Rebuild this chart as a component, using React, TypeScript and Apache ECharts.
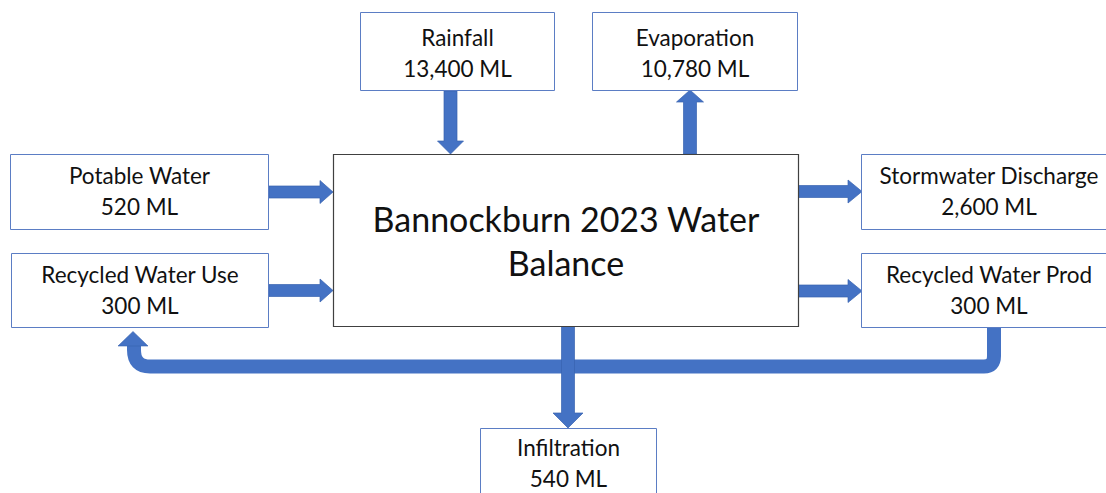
import React, { useEffect, useRef } from "react";
import * as echarts from "echarts";

// ---- data ----
const nodeNames = [
  "Rainfall",
  "Evaporation",
  "Potable Water",
  "Recycled Water Use",
  "Stormwater Discharge",
  "Recycled Water Prod",
  "Infiltration",
];
const volumesML = [13400, 10780, 520, 300, 2600, 300, 540];
const titleLines = ["Bannockburn 2023 Water", "Balance"];

// ---- layout (positions / sizes only) ----
const boxLayout = [
  { x: 360.5, y: 12.5, w: 194, h: 78, ty: 53 },
  { x: 592.5, y: 12.5, w: 205, h: 78, ty: 53 },
  { x: 10.5, y: 154.5, w: 258, h: 75, ty: 191 },
  { x: 11.5, y: 253.5, w: 257, h: 74, ty: 290 },
  { x: 861.5, y: 154.5, w: 255, h: 75, ty: 191 },
  { x: 861.5, y: 253.5, w: 255, h: 74, ty: 290 },
  { x: 480.5, y: 428.5, w: 176, h: 80, ty: 462.5 },
];
const mainBox = { x: 333.5, y: 154.5, w: 465, h: 172 };

// arrows: [x1, y1, x2, y2, shaft, headWidth, headLen]
const arrowLayout: number[][] = [
  [450.5, 91, 450.5, 154, 13, 26, 13],
  [690, 154, 690, 90, 13, 27, 12],
  [269, 192, 333, 192, 12, 23, 13],
  [269, 290.5, 333, 290.5, 12, 23, 13],
  [798, 191.5, 862, 191.5, 12, 23, 14],
  [798, 291, 862, 291, 12, 23, 14],
  [568, 326, 568, 428, 13, 30, 15],
];

const BLUE = "#4472C4";
const BLUE_EDGE = "#3863B0";
const FONT = "Lato, 'Noto Sans', sans-serif";

function arrowPoints(a: number[]) {
  const [x1, y1, x2, y2, s, hw, hl] = a;
  const dx = x2 - x1;
  const dy = y2 - y1;
  const len = Math.sqrt(dx * dx + dy * dy);
  const ux = dx / len;
  const uy = dy / len;
  const px = -uy;
  const py = ux;
  const bx = x2 - ux * hl;
  const by = y2 - uy * hl;
  const pt = (cx: number, cy: number, o: number) => [cx + px * o, cy + py * o];
  return [
    pt(x1, y1, s / 2),
    pt(bx, by, s / 2),
    pt(bx, by, hw / 2),
    [x2, y2],
    pt(bx, by, -hw / 2),
    pt(bx, by, -s / 2),
    pt(x1, y1, -s / 2),
  ];
}

const loopPath =
  "M994 327 L994 356 Q994 366.5 984 366.5 L150 366.5 Q134 366.5 134 350 L134 345";

export default function App() {
  const ref = useRef<HTMLDivElement>(null);
  useEffect(() => {
    if (!ref.current) return;
    echarts.graphic.registerShape(
      "loopArrow",
      echarts.graphic.extendPath(loopPath, {}) as any
    );
    const chart = echarts.init(ref.current, null, { renderer: "svg" });

    const elements: any[] = [];
    // loop (recycled water)
    elements.push({
      type: "loopArrow",
      x: 0,
      y: 0,
      scaleX: 1,
      scaleY: 1,
      z: 1,
      style: {
        fill: "none",
        stroke: BLUE,
        lineWidth: 14,
        lineJoin: "round",
      },
    });
    elements.push({
      type: "polygon",
      z: 2,
      shape: {
        points: [
          [118, 346],
          [133, 331.5],
          [148, 346],
        ],
      },
      style: { fill: BLUE, stroke: BLUE_EDGE, lineWidth: 0.6 },
    });

    arrowLayout.forEach((a) => {
      elements.push({
        type: "polygon",
        z: 3,
        shape: { points: arrowPoints(a) },
        style: { fill: BLUE, stroke: BLUE_EDGE, lineWidth: 0.7 },
      });
    });

    // main box
    elements.push({
      type: "rect",
      z: 4,
      shape: { x: mainBox.x, y: mainBox.y, width: mainBox.w, height: mainBox.h },
      style: { fill: "#ffffff", stroke: "#404040", lineWidth: 1.2 },
    });
    elements.push({
      type: "text",
      z: 5,
      style: {
        text: titleLines.join("\n"),
        x: mainBox.x + mainBox.w / 2,
        y: 240,
        align: "center",
        verticalAlign: "middle",
        font: `34px ${FONT}`,
        lineHeight: 44,
        fill: "#111111",
      },
    });

    nodeNames.forEach((name, i) => {
      const b = boxLayout[i];
      elements.push({
        type: "rect",
        z: 4,
        shape: { x: b.x, y: b.y, width: b.w, height: b.h },
        style: { fill: "#ffffff", stroke: "#5B7DC4", lineWidth: 1 },
      });
      elements.push({
        type: "text",
        z: 5,
        style: {
          text: `${name}\n${volumesML[i].toLocaleString("en-US")} ML`,
          x: b.x + b.w / 2,
          y: b.ty,
          align: "center",
          verticalAlign: "middle",
          font: `22.5px ${FONT}`,
          lineHeight: 31,
          fill: "#111111",
        },
      });
    });

    chart.setOption({
      animation: false,
      backgroundColor: "#ffffff",
      graphic: { elements },
    });
    return () => chart.dispose();
  }, []);

  return (
    <div
      ref={ref}
      style={{ position: "fixed", left: 0, top: 0, width: 1106, height: 493 }}
    />
  );
}
